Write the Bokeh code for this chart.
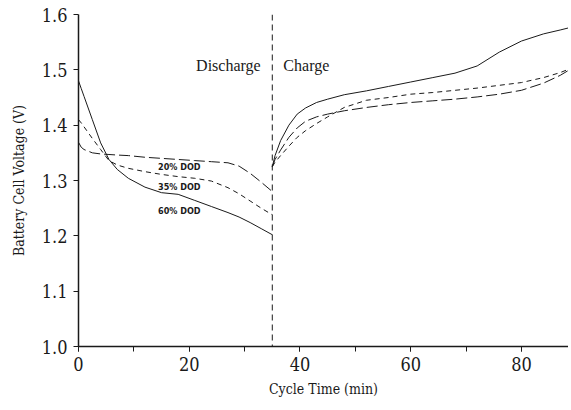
from bokeh.plotting import figure
from bokeh.embed import file_html
from bokeh.resources import INLINE
from bokeh.models import Range1d, SingleIntervalTicker, FixedTicker, Label, Span

# ---- data ----
t_dis = [0, 0.5, 1, 2.5, 4, 5.5, 7, 9, 12, 15, 18, 21, 24, 27, 29, 31, 33, 35]
v20_dis = [1.369, 1.360, 1.356, 1.350, 1.348, 1.347, 1.346, 1.345, 1.342, 1.340,
           1.338, 1.336, 1.334, 1.332, 1.326, 1.313, 1.297, 1.280]
v35_dis = [1.410, 1.404, 1.397, 1.376, 1.356, 1.336, 1.328, 1.322, 1.316, 1.311,
           1.307, 1.304, 1.299, 1.287, 1.276, 1.263, 1.250, 1.238]
v60_dis = [1.480, 1.466, 1.452, 1.410, 1.368, 1.338, 1.320, 1.304, 1.288, 1.278,
           1.275, 1.264, 1.253, 1.242, 1.234, 1.224, 1.213, 1.202]

t_chg = [35, 35.5, 36.5, 38, 39.5, 41, 43, 45, 48, 52, 56, 60, 64, 68, 72, 76, 80, 84, 87, 89]
v20_chg = [1.325, 1.338, 1.355, 1.378, 1.395, 1.407, 1.415, 1.420, 1.426, 1.432,
           1.437, 1.441, 1.444, 1.447, 1.451, 1.456, 1.463, 1.476, 1.490, 1.502]
v35_chg = [1.325, 1.333, 1.345, 1.362, 1.378, 1.390, 1.403, 1.415, 1.432, 1.445,
           1.450, 1.456, 1.459, 1.463, 1.467, 1.472, 1.477, 1.486, 1.495, 1.503]
v60_chg = [1.325, 1.345, 1.372, 1.400, 1.420, 1.431, 1.441, 1.447, 1.455, 1.462,
           1.470, 1.478, 1.486, 1.494, 1.507, 1.532, 1.552, 1.565, 1.572, 1.577]

switch_time = 35
y_ticks = [1.0, 1.1, 1.2, 1.3, 1.4, 1.5, 1.6]
dod_labels = ["20% DOD", "35% DOD", "60% DOD"]

TICK_FONT = "'DejaVu Serif Condensed', 'DejaVu Serif', serif"
DOD_FONT = "'DejaVu Sans Condensed', 'DejaVu Sans', sans-serif"
SERIF = "'Liberation Serif', 'DejaVu Serif', serif"

p = figure(width=568, height=399, output_backend="svg", toolbar_location=None,
           x_range=Range1d(0, 88.5), y_range=Range1d(1.0, 1.6),
           min_border_left=78, min_border_right=0, min_border_top=14, min_border_bottom=20)
p.outline_line_color = None
p.xgrid.visible = False
p.ygrid.visible = False
p.background_fill_color = "white"

ink = "#1a1a1a"
for t, v in [(t_dis, v20_dis), (t_chg, v20_chg)]:
    p.line(t, v, line_color=ink, line_width=1, line_dash="11 4")
for t, v in [(t_dis, v35_dis), (t_chg, v35_chg)]:
    p.line(t, v, line_color=ink, line_width=1, line_dash="5 4")
for t, v in [(t_dis, v60_dis), (t_chg, v60_chg)]:
    p.line(t, v, line_color=ink, line_width=1)

p.add_layout(Span(location=switch_time, dimension="height", line_color=ink,
                  line_width=1, line_dash="6 4"))

p.add_layout(Label(x=32.9, y=1.508, text="Discharge", text_align="right",
                   text_baseline="middle", text_font=SERIF, text_font_size="16px",
                   text_color=ink))
p.add_layout(Label(x=37.0, y=1.508, text="Charge", text_align="left",
                   text_baseline="middle", text_font=SERIF, text_font_size="16px",
                   text_color=ink))
for lab, yy in zip(dod_labels, [1.324, 1.288, 1.244]):
    p.add_layout(Label(x=18.2, y=yy, text=lab, text_align="center",
                       text_baseline="middle", text_font=DOD_FONT,
                       text_font_size="9px", text_font_style="bold", text_color=ink))

for ax in (p.xaxis[0], p.yaxis[0]):
    ax.axis_line_color = ink
    ax.axis_line_width = 1.5
    ax.major_tick_line_color = ink
    ax.minor_tick_line_color = ink
    ax.major_tick_in = 0
    ax.major_tick_out = 5
    ax.minor_tick_in = 0
    ax.minor_tick_out = 5
    ax.major_label_text_font = TICK_FONT
    ax.major_label_text_font_size = "18px"
    ax.major_label_text_color = ink
    ax.axis_label_text_font = TICK_FONT
    ax.axis_label_text_font_size = "14px"
    ax.axis_label_text_font_style = "normal"
    ax.axis_label_text_color = ink

p.xaxis[0].ticker = SingleIntervalTicker(interval=20, num_minor_ticks=2)
p.xaxis[0].axis_label = "Cycle Time (min)"
p.xaxis[0].axis_label_standoff = 7
p.xaxis[0].major_label_standoff = 5
p.yaxis[0].ticker = FixedTicker(ticks=y_ticks, minor_ticks=[])
p.yaxis[0].major_label_overrides = {t: f"{t:.1f}" for t in y_ticks}
p.yaxis[0].axis_label = "Battery Cell Voltage (V)"
p.yaxis[0].axis_label_standoff = 12
p.yaxis[0].major_label_standoff = 6

open("out.html", "w").write(file_html(p, INLINE))
